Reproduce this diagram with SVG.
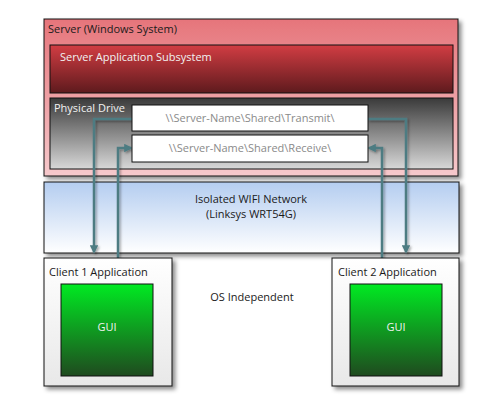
<svg xmlns="http://www.w3.org/2000/svg" width="500" height="400" viewBox="0 0 500 400">
<defs>
<linearGradient id="gServer" x1="0" y1="0" x2="0" y2="1"><stop offset="0" stop-color="#e6757b"/><stop offset="1" stop-color="#f6c9cc"/></linearGradient>
<linearGradient id="gApp" x1="0" y1="0" x2="0" y2="1"><stop offset="0" stop-color="#d23d43"/><stop offset="1" stop-color="#5e1a1d"/></linearGradient>
<linearGradient id="gDrive" x1="0" y1="0" x2="0" y2="1"><stop offset="0" stop-color="#3a3a3a"/><stop offset="1" stop-color="#d8d8d8"/></linearGradient>
<linearGradient id="gWifi" x1="0" y1="0" x2="0" y2="1"><stop offset="0" stop-color="#b4cdf0"/><stop offset="1" stop-color="#ffffff"/></linearGradient>
<linearGradient id="gClient" x1="0" y1="0" x2="0" y2="1"><stop offset="0" stop-color="#ffffff"/><stop offset="1" stop-color="#e8e8e8"/></linearGradient>
<linearGradient id="gGui" x1="0" y1="0" x2="0" y2="1"><stop offset="0" stop-color="#00ea22"/><stop offset="1" stop-color="#1f4a1f"/></linearGradient>
<filter id="sh" x="-10%" y="-10%" width="125%" height="130%"><feDropShadow dx="3" dy="3" stdDeviation="2" flood-color="#000" flood-opacity="0.45"/></filter>
<filter id="lsh" x="-20%" y="-20%" width="140%" height="140%"><feDropShadow dx="1.5" dy="1.5" stdDeviation="1" flood-color="#000" flood-opacity="0.35"/></filter>
<marker id="ah" viewBox="0 0 10 10" refX="8" refY="5" markerWidth="3.4" markerHeight="3.4" orient="auto" markerUnits="strokeWidth"><path d="M0,0 L10,5 L0,10 z" fill="#4d7b82"/></marker>
</defs>
<style>
.box{stroke:#111;stroke-width:1}
.t{font-family:"Open Sans","Liberation Sans",sans-serif;font-size:11px}
.dark{fill:#1a1a1a}
.light{fill:#f2f2f2}
.path{fill:#8a8a8a}
.c{fill:none;stroke:#4d7b82;stroke-width:2.5;marker-end:url(#ah)}
</style>
<rect width="500" height="400" fill="#ffffff"/>
<g id="server">
<rect class="box" x="44" y="19" width="414" height="157" fill="url(#gServer)" filter="url(#sh)"/>
<text class="t dark" x="48" y="33">Server (Windows System)</text>
</g>
<g id="app">
<rect class="box" x="50" y="45" width="403" height="48" fill="url(#gApp)"/>
<text class="t light" x="60" y="61">Server Application Subsystem</text>
</g>
<g id="drive">
<rect class="box" x="50" y="98" width="403" height="71" fill="url(#gDrive)"/>
<text class="t light" x="54" y="112">Physical Drive</text>
</g>
<g id="wifi">
<rect class="box" x="44" y="182" width="415" height="71" fill="url(#gWifi)" filter="url(#sh)"/>
<text class="t dark" x="251" y="203" text-anchor="middle">Isolated WIFI Network</text>
<text class="t dark" x="251" y="218" text-anchor="middle">(Linksys WRT54G)</text>
</g>
<g id="connectors" filter="url(#lsh)">
<path class="c" d="M132,119 H94 V252"/>
<path class="c" d="M118,258 V148 H131"/>
<path class="c" d="M382,258 V148 H369"/>
<path class="c" d="M368,119 H406 V252"/>
</g>
<g id="transmit">
<rect class="box" x="132" y="105" width="236" height="26" fill="#ffffff"/>
<text class="t path" x="250" y="122" text-anchor="middle">\\Server-Name\Shared\Transmit\</text>
</g>
<g id="receive">
<rect class="box" x="132" y="135" width="236" height="27" fill="#ffffff"/>
<text class="t path" x="250" y="152" text-anchor="middle">\\Server-Name\Shared\Receive\</text>
</g>
<g id="client1">
<rect class="box" x="44" y="258" width="128" height="128" fill="url(#gClient)" filter="url(#sh)"/>
<text class="t dark" x="49" y="276">Client 1 Application</text>
</g>
<g id="gui1">
<rect class="box" x="61" y="284" width="92" height="92" fill="url(#gGui)"/>
<text class="t light" x="107" y="331" text-anchor="middle">GUI</text>
</g>
<g id="client2">
<rect class="box" x="332" y="258" width="127" height="128" fill="url(#gClient)" filter="url(#sh)"/>
<text class="t dark" x="338" y="276">Client 2 Application</text>
</g>
<g id="gui2">
<rect class="box" x="350" y="284" width="92" height="92" fill="url(#gGui)"/>
<text class="t light" x="396" y="331" text-anchor="middle">GUI</text>
</g>
<g id="os">
<text class="t dark" x="252" y="301" text-anchor="middle">OS Independent</text>
</g>
</svg>
